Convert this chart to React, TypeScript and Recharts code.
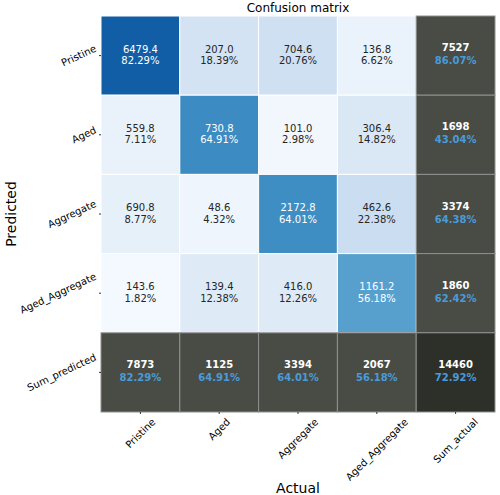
import React from 'react';
import { ScatterChart, Scatter, XAxis, YAxis, ReferenceArea } from 'recharts';

// ---- data ----
const actualLabels = ['Pristine', 'Aged', 'Aggregate', 'Aged_Aggregate', 'Sum_actual'];
const predictedLabels = ['Pristine', 'Aged', 'Aggregate', 'Aged_Aggregate', 'Sum_predicted'];

// rows = predicted, columns = actual
const pristineRow = [6479.4, 207.0, 704.6, 136.8];
const agedRow = [559.8, 730.8, 101.0, 306.4];
const aggregateRow = [690.8, 48.6, 2172.8, 462.6];
const agedAggregateRow = [143.6, 139.4, 416.0, 1161.2];

const pristinePct = [82.29, 18.39, 20.76, 6.62];
const agedPct = [7.11, 64.91, 2.98, 14.82];
const aggregatePct = [8.77, 4.32, 64.01, 22.38];
const agedAggregatePct = [1.82, 12.38, 12.26, 56.18];

const rowSums = [7527, 1698, 3374, 1860];
const rowSumPct = [86.07, 43.04, 64.38, 62.42];
const colSums = [7873, 1125, 3394, 2067];
const colSumPct = [82.29, 64.91, 64.01, 56.18];
const grandTotal = 14460;
const grandTotalPct = 72.92;

const valueRows = [pristineRow, agedRow, aggregateRow, agedAggregateRow];
const pctRows = [pristinePct, agedPct, aggregatePct, agedAggregatePct];

// ---- styling helpers ----
const FONT = 'DejaVu Sans';
const BLUES = ['#f7fbff', '#deebf7', '#c6dbef', '#9ecae1', '#6baed6', '#4292c6', '#2171b5', '#08519c', '#08306b'];
const SUM_FILL = '#484c45';
const TOTAL_FILL = '#2c3029';
const SUM_PCT_COLOR = '#4a9bd9';

function hexToRgb(h: string) {
  return [parseInt(h.slice(1, 3), 16), parseInt(h.slice(3, 5), 16), parseInt(h.slice(5, 7), 16)];
}
function blues(t: number): [number, number, number] {
  const v = Math.max(0, Math.min(1, t)) * (BLUES.length - 1);
  const i = Math.min(BLUES.length - 2, Math.floor(v));
  const f = v - i;
  const a = hexToRgb(BLUES[i]);
  const b = hexToRgb(BLUES[i + 1]);
  return [0, 1, 2].map((k) => Math.round(a[k] + (b[k] - a[k]) * f)) as [number, number, number];
}
function rgbStr(c: number[]) {
  return `rgb(${c[0]},${c[1]},${c[2]})`;
}
function luminance(c: number[]) {
  const lin = c.map((v) => {
    const s = v / 255;
    return s <= 0.03928 ? s / 12.92 : Math.pow((s + 0.055) / 1.055, 2.4);
  });
  return 0.2126 * lin[0] + 0.7152 * lin[1] + 0.0722 * lin[2];
}

let ctx: CanvasRenderingContext2D | null = null;
function measure(text: string, font: string) {
  if (!ctx) ctx = document.createElement('canvas').getContext('2d');
  if (!ctx) return text.length * 6;
  ctx.font = font;
  return ctx.measureText(text).width;
}

type CellInfo = {
  col: number;
  row: number;
  main: string;
  pct: string;
  kind: 'normal' | 'sum' | 'total';
  fill: string;
  textColor: string;
};

const cells: CellInfo[] = [];
for (let r = 0; r < 5; r++) {
  for (let c = 0; c < 5; c++) {
    if (r < 4 && c < 4) {
      const p = pctRows[r][c];
      const rgb = blues(p / 100);
      cells.push({
        col: c,
        row: r,
        main: valueRows[r][c].toFixed(1),
        pct: p.toFixed(2) + '%',
        kind: 'normal',
        fill: rgbStr(rgb),
        textColor: luminance(rgb) > 0.408 ? '#262626' : '#ffffff',
      });
    } else if (r === 4 && c === 4) {
      cells.push({ col: c, row: r, main: String(grandTotal), pct: grandTotalPct.toFixed(2) + '%', kind: 'total', fill: TOTAL_FILL, textColor: '#ffffff' });
    } else if (c === 4) {
      cells.push({ col: c, row: r, main: String(rowSums[r]), pct: rowSumPct[r].toFixed(2) + '%', kind: 'sum', fill: SUM_FILL, textColor: '#ffffff' });
    } else {
      cells.push({ col: c, row: r, main: String(colSums[c]), pct: colSumPct[c].toFixed(2) + '%', kind: 'sum', fill: SUM_FILL, textColor: '#ffffff' });
    }
  }
}

const centers = cells.map((c) => ({ x: c.col + 0.5, y: c.row + 0.5 }));
const tickPositions = [0.5, 1.5, 2.5, 3.5, 4.5];

function CellShape(props: any) {
  const cell: CellInfo = props.cell;
  let { x, y, width, height } = props;
  if (width < 0) { x += width; width = -width; }
  if (height < 0) { y += height; height = -height; }
  const cx = x + width / 2;
  const cy = y + height / 2;
  const isSum = cell.kind !== 'normal';
  return (
    <g>
      <rect x={x} y={y} width={width} height={height} fill={cell.fill} stroke={isSum ? '#8f8f8f' : '#ffffff'} strokeWidth={1} />
      <text
        x={cx}
        y={isSum ? cy - 8 : cy - 6.5}
        textAnchor="middle"
        dominantBaseline="central"
        fontFamily={FONT}
        fontSize={10}
        fontWeight={isSum ? 'bold' : 'normal'}
        fill={cell.textColor}
      >
        {cell.main}
      </text>
      <text
        x={cx}
        y={cy + 5}
        textAnchor="middle"
        dominantBaseline="central"
        fontFamily={FONT}
        fontSize={10}
        fontWeight={isSum ? 'bold' : 'normal'}
        fill={isSum ? SUM_PCT_COLOR : cell.textColor}
      >
        {cell.pct}
      </text>
    </g>
  );
}

const LABEL_H = 11.6;

function YTick(props: any) {
  const { x, y, payload } = props;
  const label = predictedLabels[Math.floor(payload.value)];
  const w = measure(label, `10px "${FONT}"`);
  const a = (25 * Math.PI) / 180;
  const bw = w * Math.cos(a) + LABEL_H * Math.sin(a);
  const cx = x - bw / 2;
  const cy = y;
  return (
    <text x={cx} y={cy} textAnchor="middle" dominantBaseline="central" fontFamily={FONT} fontSize={10} fill="#000"
      transform={`rotate(-25 ${cx} ${cy})`}>
      {label}
    </text>
  );
}

function XTick(props: any) {
  const { x, y, payload } = props;
  const label = actualLabels[Math.floor(payload.value)];
  const w = measure(label, `10px "${FONT}"`);
  const a = (45 * Math.PI) / 180;
  const bh = w * Math.sin(a) + LABEL_H * Math.cos(a);
  const cx = x;
  const cy = y + bh / 2;
  return (
    <text x={cx} y={cy} textAnchor="middle" dominantBaseline="central" fontFamily={FONT} fontSize={10} fill="#000"
      transform={`rotate(-45 ${cx} ${cy})`}>
      {label}
    </text>
  );
}

export default function App() {
  return (
    <div style={{ position: 'absolute', left: 0, top: 0, width: 500, height: 495, background: '#fff' }}>
      <ScatterChart width={500} height={495} margin={{ top: 16, right: 5, bottom: 0, left: 0 }}>
        <XAxis
          type="number"
          dataKey="x"
          domain={[0, 5]}
          ticks={tickPositions}
          allowDataOverflow
          axisLine={false}
          tickLine={{ stroke: '#333' }}
          tickSize={2}
          tickMargin={2}
          height={83}
          tick={<XTick />}
          interval={0}
        />
        <YAxis
          type="number"
          dataKey="y"
          domain={[0, 5]}
          reversed
          ticks={tickPositions}
          allowDataOverflow
          axisLine={false}
          tickLine={{ stroke: '#333' }}
          tickSize={2}
          tickMargin={1}
          width={101}
          tick={<YTick />}
          interval={0}
        />
        {cells.map((cell) => (
          <ReferenceArea
            key={`${cell.row}-${cell.col}`}
            x1={cell.col}
            x2={cell.col + 1}
            y1={cell.row}
            y2={cell.row + 1}
            ifOverflow="visible"
            shape={(p: any) => <CellShape {...p} cell={cell} />}
          />
        ))}
        <Scatter data={centers} isAnimationActive={false} shape={() => <g />} />
      </ScatterChart>
      <svg width={500} height={495} style={{ position: 'absolute', left: 0, top: 0, pointerEvents: 'none' }}>
        <text x={298} y={12} textAnchor="middle" fontFamily={FONT} fontSize={12} fill="#000">Confusion matrix</text>
        <text x={298} y={493} textAnchor="middle" fontFamily={FONT} fontSize={14} fill="#000">Actual</text>
        <text x={11} y={214} textAnchor="middle" dominantBaseline="central" fontFamily={FONT} fontSize={14} fill="#000"
          transform="rotate(-90 11 214)">Predicted</text>
      </svg>
    </div>
  );
}
